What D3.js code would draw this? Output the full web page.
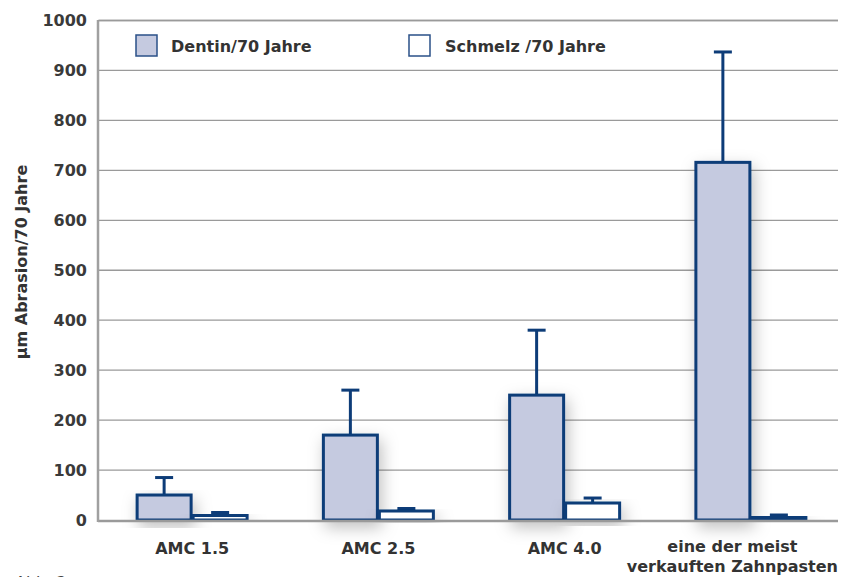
<!DOCTYPE html>
<html><head><meta charset="utf-8">
<script src="https://cdn.jsdelivr.net/npm/d3@7"></script>
<style>
html,body{margin:0;padding:0;background:#fff;}
svg{display:block;font-family:"DejaVu Sans",sans-serif;}
</style></head>
<body>
<svg id="chart" width="845" height="577"></svg>
<script>
const categories = ["AMC 1.5", "AMC 2.5", "AMC 4.0", "eine der meist\nverkauften Zahnpasten"];
const seriesNames = ["Dentin/70 Jahre", "Schmelz /70 Jahre"];
const dentinValues = [50, 170, 250, 716];
const dentinErrors = [85, 260, 380, 937];
const schmelzValues = [9, 18, 34, 6];
const schmelzErrors = [15, 23, 44, 10];
const yTicks = [0, 100, 200, 300, 400, 500, 600, 700, 800, 900, 1000];

const FONT = "'DejaVu Sans', sans-serif";
const W = 845;
const svg = d3.select("#chart");
const defs = svg.append("defs");
const f = defs.append("filter").attr("id","shadow").attr("x","-50%").attr("y","-20%").attr("width","200%").attr("height","150%");
f.append("feDropShadow").attr("dx",3).attr("dy",6).attr("stdDeviation",8).attr("flood-color","#000").attr("flood-opacity",0.25);

const left = 99, right = 838, bandRight = 844;
const y = d3.scaleLinear().domain([0, 1000]).range([520, 20.5]);
const x = d3.scaleBand().domain(categories).range([left, bandRight]).padding(0);
const barW = 56;

// gridlines
svg.append("g").selectAll("line").data(yTicks.filter(d => d > 0)).join("line")
  .attr("x1", left).attr("x2", right)
  .attr("y1", d => y(d)).attr("y2", d => y(d))
  .attr("stroke", "#9a9a9a").attr("stroke-width", 1.3);

// y tick labels
const yAxis = d3.axisLeft(y).tickValues(yTicks).tickFormat(d3.format("d")).tickSize(0).tickPadding(11);
const ya = svg.append("g").attr("transform", `translate(${left - 1},0)`).call(yAxis);
ya.select(".domain").remove();
ya.selectAll("text").attr("font-size", 16).attr("font-weight", 700).attr("fill", "#3a3a3a")
  .attr("font-family", FONT);

// data rows
const rows = [];
categories.forEach((c, i) => {
  rows.push({cat: c, s: 0, v: dentinValues[i], e: dentinErrors[i]});
  rows.push({cat: c, s: 1, v: schmelzValues[i], e: schmelzErrors[i]});
});
const cx = d => x(d.cat) + x.bandwidth() / 2 + (d.s === 0 ? -barW / 2 : barW / 2);

// error bars
const eg = svg.append("g");
eg.selectAll("line.stem").data(rows).join("line").attr("class","stem")
  .attr("x1", cx).attr("x2", cx).attr("y1", d => y(d.v)).attr("y2", d => y(d.e))
  .attr("stroke", "#0d3c78").attr("stroke-width", 3);
eg.selectAll("line.cap").data(rows).join("line").attr("class","cap")
  .attr("x1", d => cx(d) - 9).attr("x2", d => cx(d) + 9).attr("y1", d => y(d.e)).attr("y2", d => y(d.e))
  .attr("stroke", "#0d3c78").attr("stroke-width", 3);

// bars
svg.append("g").selectAll("rect").data(rows).join("rect")
  .attr("x", d => cx(d) - barW / 2 + 1)
  .attr("y", d => y(d.v))
  .attr("width", barW - 2)
  .attr("height", d => y(0) - y(d.v))
  .attr("fill", d => d.s === 0 ? "#c5cae0" : "#ffffff")
  .attr("stroke", "#0d3c78").attr("stroke-width", 3)
  .attr("filter", "url(#shadow)");

// axes lines
svg.append("line").attr("x1", left - 1).attr("x2", right).attr("y1", y(0) + 1).attr("y2", y(0) + 1)
  .attr("stroke", "#9a9a9a").attr("stroke-width", 2.5);
svg.append("line").attr("x1", left - 1).attr("x2", left - 1).attr("y1", y(1000) - 0.5).attr("y2", y(0) + 2)
  .attr("stroke", "#a0a0a0").attr("stroke-width", 2.5);
svg.append("line").attr("x1", left - 1).attr("x2", right).attr("y1", y(1000)).attr("y2", y(1000))
  .attr("stroke", "#9a9a9a").attr("stroke-width", 1.3);

// x labels (shifted left if they would run past the page edge)
const xl = svg.append("g");
categories.forEach(c => {
  const lines = c.split("\n");
  const cxl = x(c) + x.bandwidth() / 2;
  const t = xl.append("text").attr("y", 554)
    .attr("text-anchor", "middle").attr("font-size", 16).attr("font-weight", 700).attr("fill", "#333")
    .attr("font-family", FONT);
  const spans = lines.map((l, i) => t.append("tspan").attr("x", cxl).attr("dy", i === 0 ? (lines.length > 1 ? -2 : 0) : 20).text(l));
  let maxW = 0;
  spans.forEach(s => { maxW = Math.max(maxW, s.node().getComputedTextLength()); });
  const shift = Math.min(0, (W - 7) - (cxl + maxW / 2));
  spans.forEach(s => s.attr("x", cxl + shift));
});

// y title
svg.append("text").attr("transform", "translate(27,262) rotate(-90)")
  .attr("text-anchor", "middle").attr("font-size", 16).attr("font-weight", 700).attr("fill", "#333")
  .attr("font-family", FONT)
  .text("µm Abrasion/70 Jahre");

// legend
const legX = [136, 409], legTextX = [171, 445];
seriesNames.forEach((n, i) => {
  svg.append("rect").attr("x", legX[i]).attr("y", 35).attr("width", 21).attr("height", 21)
    .attr("fill", i === 0 ? "#c5cae0" : "#fff").attr("stroke", "#2a5088").attr("stroke-width", 1.5);
  svg.append("text").attr("x", legTextX[i]).attr("y", 52).attr("font-size", 16).attr("font-weight", 700)
    .attr("font-family", FONT).attr("fill", "#333").text(n);
});

// footnote (cut off at the bottom edge, as in the reference)
svg.append("text").attr("x", 15).attr("y", 588).attr("font-size", 16).attr("fill", "#444")
  .attr("font-family", FONT).text("Abb. 2");
</script>
</body></html>
